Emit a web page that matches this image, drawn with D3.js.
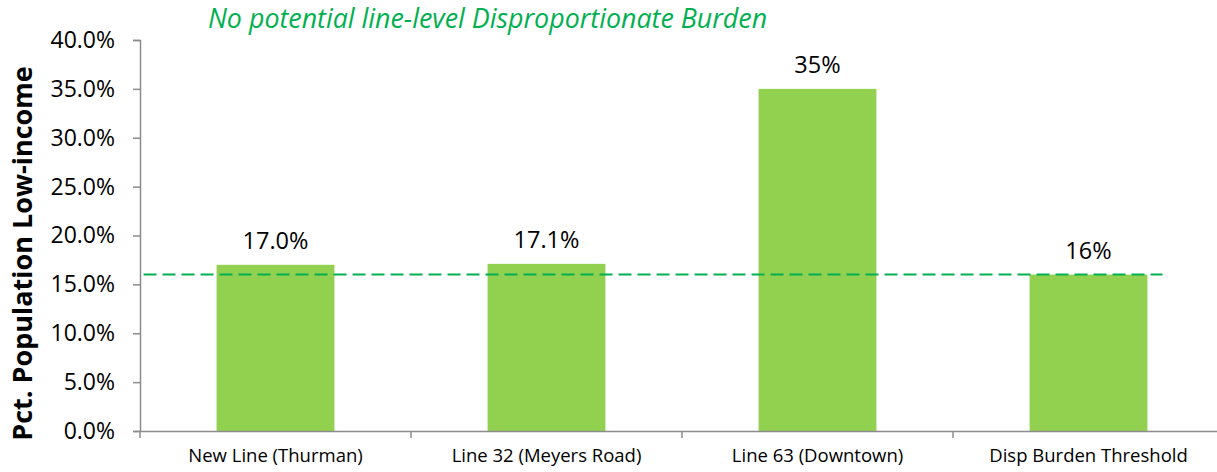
<!DOCTYPE html>
<html>
<head>
<meta charset="utf-8">
<script src="https://cdn.jsdelivr.net/npm/d3@7"></script>
<style>
  html, body { margin: 0; padding: 0; background: #fff; }
  svg { display: block; font-family: "Open Sans", "Noto Sans", sans-serif; }
</style>
</head>
<body>
<svg id="chart" width="1217" height="472"></svg>
<script>
// chart data
const categories = ["New Line (Thurman)", "Line 32 (Meyers Road)", "Line 63 (Downtown)", "Disp Burden Threshold"];
const values = [0.170, 0.171, 0.35, 0.16];
const valueLabels = ["17.0%", "17.1%", "35%", "16%"];
const yTicks = [0, 0.05, 0.10, 0.15, 0.20, 0.25, 0.30, 0.35, 0.40];
const threshold = 0.16;
// threshold line runs in category-index units (center of first bar = 0)
const thresholdSpan = [-0.487, 3.273];
const titleText = "No potential line-level Disproportionate Burden";
const yTitle = "Pct. Population Low-income";

const dims = {
  svgWidth: 1217,
  svgHeight: 472,
  margin: {top: 40, left: 140, bottom: 41, right: -7}
};
dims.width = dims.svgWidth - dims.margin.left - dims.margin.right;
dims.height = dims.svgHeight - dims.margin.top - dims.margin.bottom;

const svg = d3.select("#chart");
const g = svg.append("g").attr("transform", `translate(${dims.margin.left},${dims.margin.top})`);

const xScale = d3.scaleBand()
  .domain(categories)
  .range([0, dims.width])
  .paddingInner(0)
  .paddingOuter(0);

// bar width ~ Excel gap width 130%
const barW = xScale.bandwidth() / 2.3;

const yScale = d3.scaleLinear()
  .domain([0, 0.40])
  .range([dims.height, 0]);

// index scale for the threshold line
const xIdx = d3.scaleLinear()
  .domain([0, 1])
  .range([xScale.bandwidth() / 2, xScale.bandwidth() * 1.5]);

const axisColor = "#8c8c8c";

// bars
g.selectAll("rect.bar")
  .data(categories)
  .join("rect")
  .attr("class", "bar")
  .attr("x", d => xScale(d) + (xScale.bandwidth() - barW) / 2)
  .attr("y", (d, i) => yScale(values[i]))
  .attr("width", barW)
  .attr("height", (d, i) => dims.height - yScale(values[i]))
  .attr("fill", "#92d050");

// threshold dashed line
g.append("line")
  .attr("x1", xIdx(thresholdSpan[0]))
  .attr("x2", xIdx(thresholdSpan[1]))
  .attr("y1", yScale(threshold))
  .attr("y2", yScale(threshold))
  .attr("stroke", "#00b050")
  .attr("stroke-width", 2)
  .attr("stroke-dasharray", "13,6");

// data labels
g.selectAll("text.vlab")
  .data(categories)
  .join("text")
  .attr("class", "vlab")
  .attr("x", d => xScale(d) + xScale.bandwidth() / 2)
  .attr("y", (d, i) => yScale(values[i]) - 16)
  .attr("text-anchor", "middle")
  .attr("font-size", 23.5)
  .attr("fill", "#000")
  .text((d, i) => valueLabels[i]);

// y axis
const yAxis = g.append("g")
  .call(d3.axisLeft(yScale).tickValues(yTicks).tickFormat(d3.format(".1%")).tickSize(7).tickPadding(18));
yAxis.select(".domain").attr("stroke", axisColor).attr("stroke-width", 1.5);
yAxis.selectAll(".tick line").attr("stroke", axisColor).attr("stroke-width", 1.5);
yAxis.selectAll(".tick text").attr("font-size", 23).attr("fill", "#000").attr("font-family", "Open Sans");

// x axis
const xAxis = g.append("g")
  .attr("transform", `translate(0,${dims.height})`)
  .call(d3.axisBottom(xScale).tickSize(0).tickPadding(18));
xAxis.select(".domain").attr("stroke", axisColor).attr("stroke-width", 1.5);
xAxis.selectAll(".tick text").attr("font-size", 18.5).attr("fill", "#000").attr("font-family", "Open Sans");
// tick marks at band boundaries
xAxis.selectAll("line.sep")
  .data(categories)
  .join("line")
  .attr("class", "sep")
  .attr("x1", d => xScale(d))
  .attr("x2", d => xScale(d))
  .attr("y1", 0)
  .attr("y2", 7)
  .attr("stroke", axisColor)
  .attr("stroke-width", 1.5);

// title
svg.append("text")
  .attr("x", 208)
  .attr("y", 28)
  .attr("font-size", 26.8)
  .attr("font-style", "italic")
  .attr("fill", "#00b050")
  .text(titleText);

// y axis title
svg.append("text")
  .attr("transform", `translate(32,${dims.margin.top + dims.height / 2 + 18}) rotate(-90)`)
  .attr("text-anchor", "middle")
  .attr("font-size", 27)
  .attr("font-weight", "bold")
  .attr("fill", "#000")
  .text(yTitle);
</script>
</body>
</html>
